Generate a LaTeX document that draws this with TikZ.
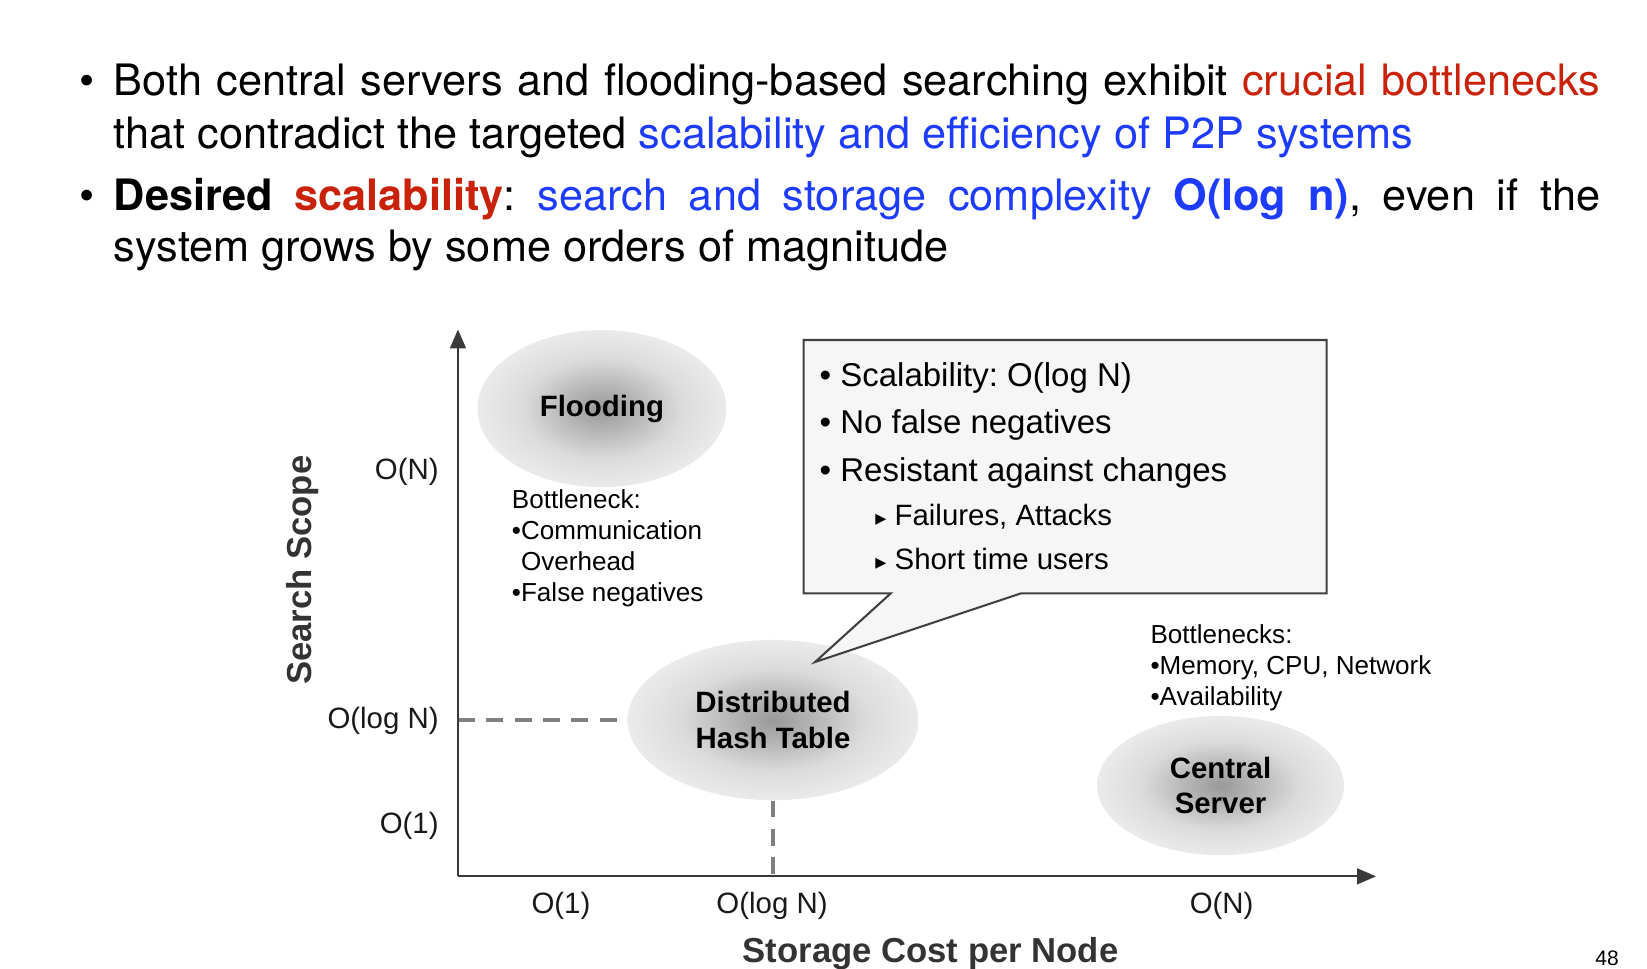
\documentclass[tikz,border=0pt]{standalone}
\usepackage{fontspec}
\setmainfont{Liberation Sans}
\newfontfamily\heros{TeX Gyre Heros}
\newfontfamily\dejavu{DejaVu Sans}
\usepackage{tikz}
\usetikzlibrary{arrows.meta,shapes.geometric,positioning}

\definecolor{slidered}{HTML}{C8230A}
\definecolor{slideblue}{HTML}{1E3CFF}
\definecolor{axisgray}{HTML}{3A3A3A}
\definecolor{boxfill}{HTML}{F6F6F6}
\pgfdeclareradialshading{blob}{\pgfpoint{0bp}{0bp}}{color(0bp)=(black!40); color(7bp)=(black!29); color(16bp)=(black!14); color(25bp)=(black!8); color(50bp)=(black!8)}
\newcommand{\fsz}[2]{\fontsize{#1}{#2}\selectfont}
\frenchspacing

\begin{document}
\begin{tikzpicture}[x=0.5pt,y=-0.5026pt,>={Triangle[length=9pt,width=7.5pt]}]
		\tikzstyle{blob}=[ellipse, shading=blob, inner sep=0pt, align=center, font=\bfseries\fsz{14}{17}]
		\tikzstyle{tick}=[inner sep=0pt, font=\fsz{14}{17}, text=black!90]
		\tikzstyle{axis title}=[inner sep=0pt, font=\bfseries\fsz{16.5}{20}, text=black!80]
		\tikzstyle{note}=[inner sep=0pt, anchor=north west, align=left, font=\fsz{12.4}{14.8}]
		\tikzstyle{callout line}=[inner sep=0pt, anchor=base west, font=\fsz{15.7}{19}]
		\tikzstyle{sub line}=[inner sep=0pt, anchor=base west, font=\fsz{14}{17}]
		\tikzstyle{slide line}=[inner sep=0pt, anchor=base west, font=\heros\fsz{20.6}{25}]
		\tikzstyle{guide}=[draw=black!50, line width=1.9pt, dash pattern=on 8pt off 5.5pt]
		\tikzstyle{axis}=[draw=axisgray, line width=1pt, ->]

		\useasboundingbox (0,0) rectangle (1568,917.7);

		% slide text
		\node [slide line] (dot1) at (75,90) {•};
		\node [slide line] (l1) at (108,90) {\makebox[707.5pt][s]{Both central servers and flooding-based searching exhibit \textcolor{slidered}{crucial bottlenecks}}};
		\node [slide line] (l2) at (108,141) {that contradict the targeted \textcolor{slideblue}{scalability and efficiency of P2P systems}};
		\node [slide line] (dot2) at (75,199) {•};
		\node [slide line] (l3) at (108,199) {\makebox[707.5pt][s]{\textbf{Desired} \textbf{\textcolor{slidered}{scalability}}: \textcolor{slideblue}{search and storage complexity \textbf{O(log n)}}, even if the}};
		\node [slide line] (l4) at (108,248) {system grows by some orders of magnitude};

		% bubbles
		\node [blob, minimum width=118.5pt, minimum height=74.8pt] (flood) at (573,387) {Flooding};
		\node [blob, minimum width=138.5pt, minimum height=76.3pt] (dht) at (736,682) {Distributed\\Hash Table};
		\node [blob, minimum width=117.5pt, minimum height=66.3pt] (central) at (1162,744) {Central\\Server};

		% axes
		\coordinate (origin) at (436,830);
		\coordinate (ytip) at (436,312);
		\coordinate (xtip) at (1310,830);
		\draw [guide] (origin |- dht.west) -- (dht.west);
		\draw [guide] (dht.south) -- (dht.south |- origin);
		\draw [axis] (origin) -- (ytip);
		\draw [axis] (origin) -- (xtip);

		\node [tick, anchor=east] (yn) at (418,447) {O(N)};
		\node [tick, anchor=east] (ylog) at (418,683) {O(log N)};
		\node [tick, anchor=east] (y1) at (418,782) {O(1)};
		\node [tick] (x1) at (534,858) {O(1)};
		\node [tick] (xlog) at (735,858) {O(log N)};
		\node [tick] (xn) at (1163,858) {O(N)};
		\node [axis title, rotate=90] (ytitle) at (288,540) {Search Scope};
		\node [axis title] (xtitle) at (886,903) {Storage Cost per Node};

		% bottlenecks
		\node [note] (floodnote) at (487,463) {Bottleneck:\\•Communication\\\phantom{•}Overhead\\•False negatives};
		\node [note] (centralnote) at (1095,591) {Bottlenecks:\\•Memory, CPU, Network\\•Availability};

		% callout
		\coordinate (tip) at (776,627);
		\draw [fill=boxfill, draw=black!75, line width=1pt, line join=miter]
			(765,322) -- (1263,322) -- (1263,562) -- (972,562) -- (tip) -- (848,562) -- (765,562) -- cycle;
		\node [callout line] (c1) at (780,366) {• Scalability: O(log N)};
		\node [callout line] (c2) at (780,411) {• No false negatives};
		\node [callout line] (c3) at (780,456) {• Resistant against changes};
		\node [sub line] (c4) at (833,498) {{\dejavu\fsz{10.5}{12}▸} Failures, Attacks};
		\node [sub line] (c5) at (833,539) {{\dejavu\fsz{10.5}{12}▸} Short time users};

		\node [inner sep=0pt, font=\fsz{10}{12}] (page) at (1530,908) {48};
	\end{tikzpicture}
\end{document}
